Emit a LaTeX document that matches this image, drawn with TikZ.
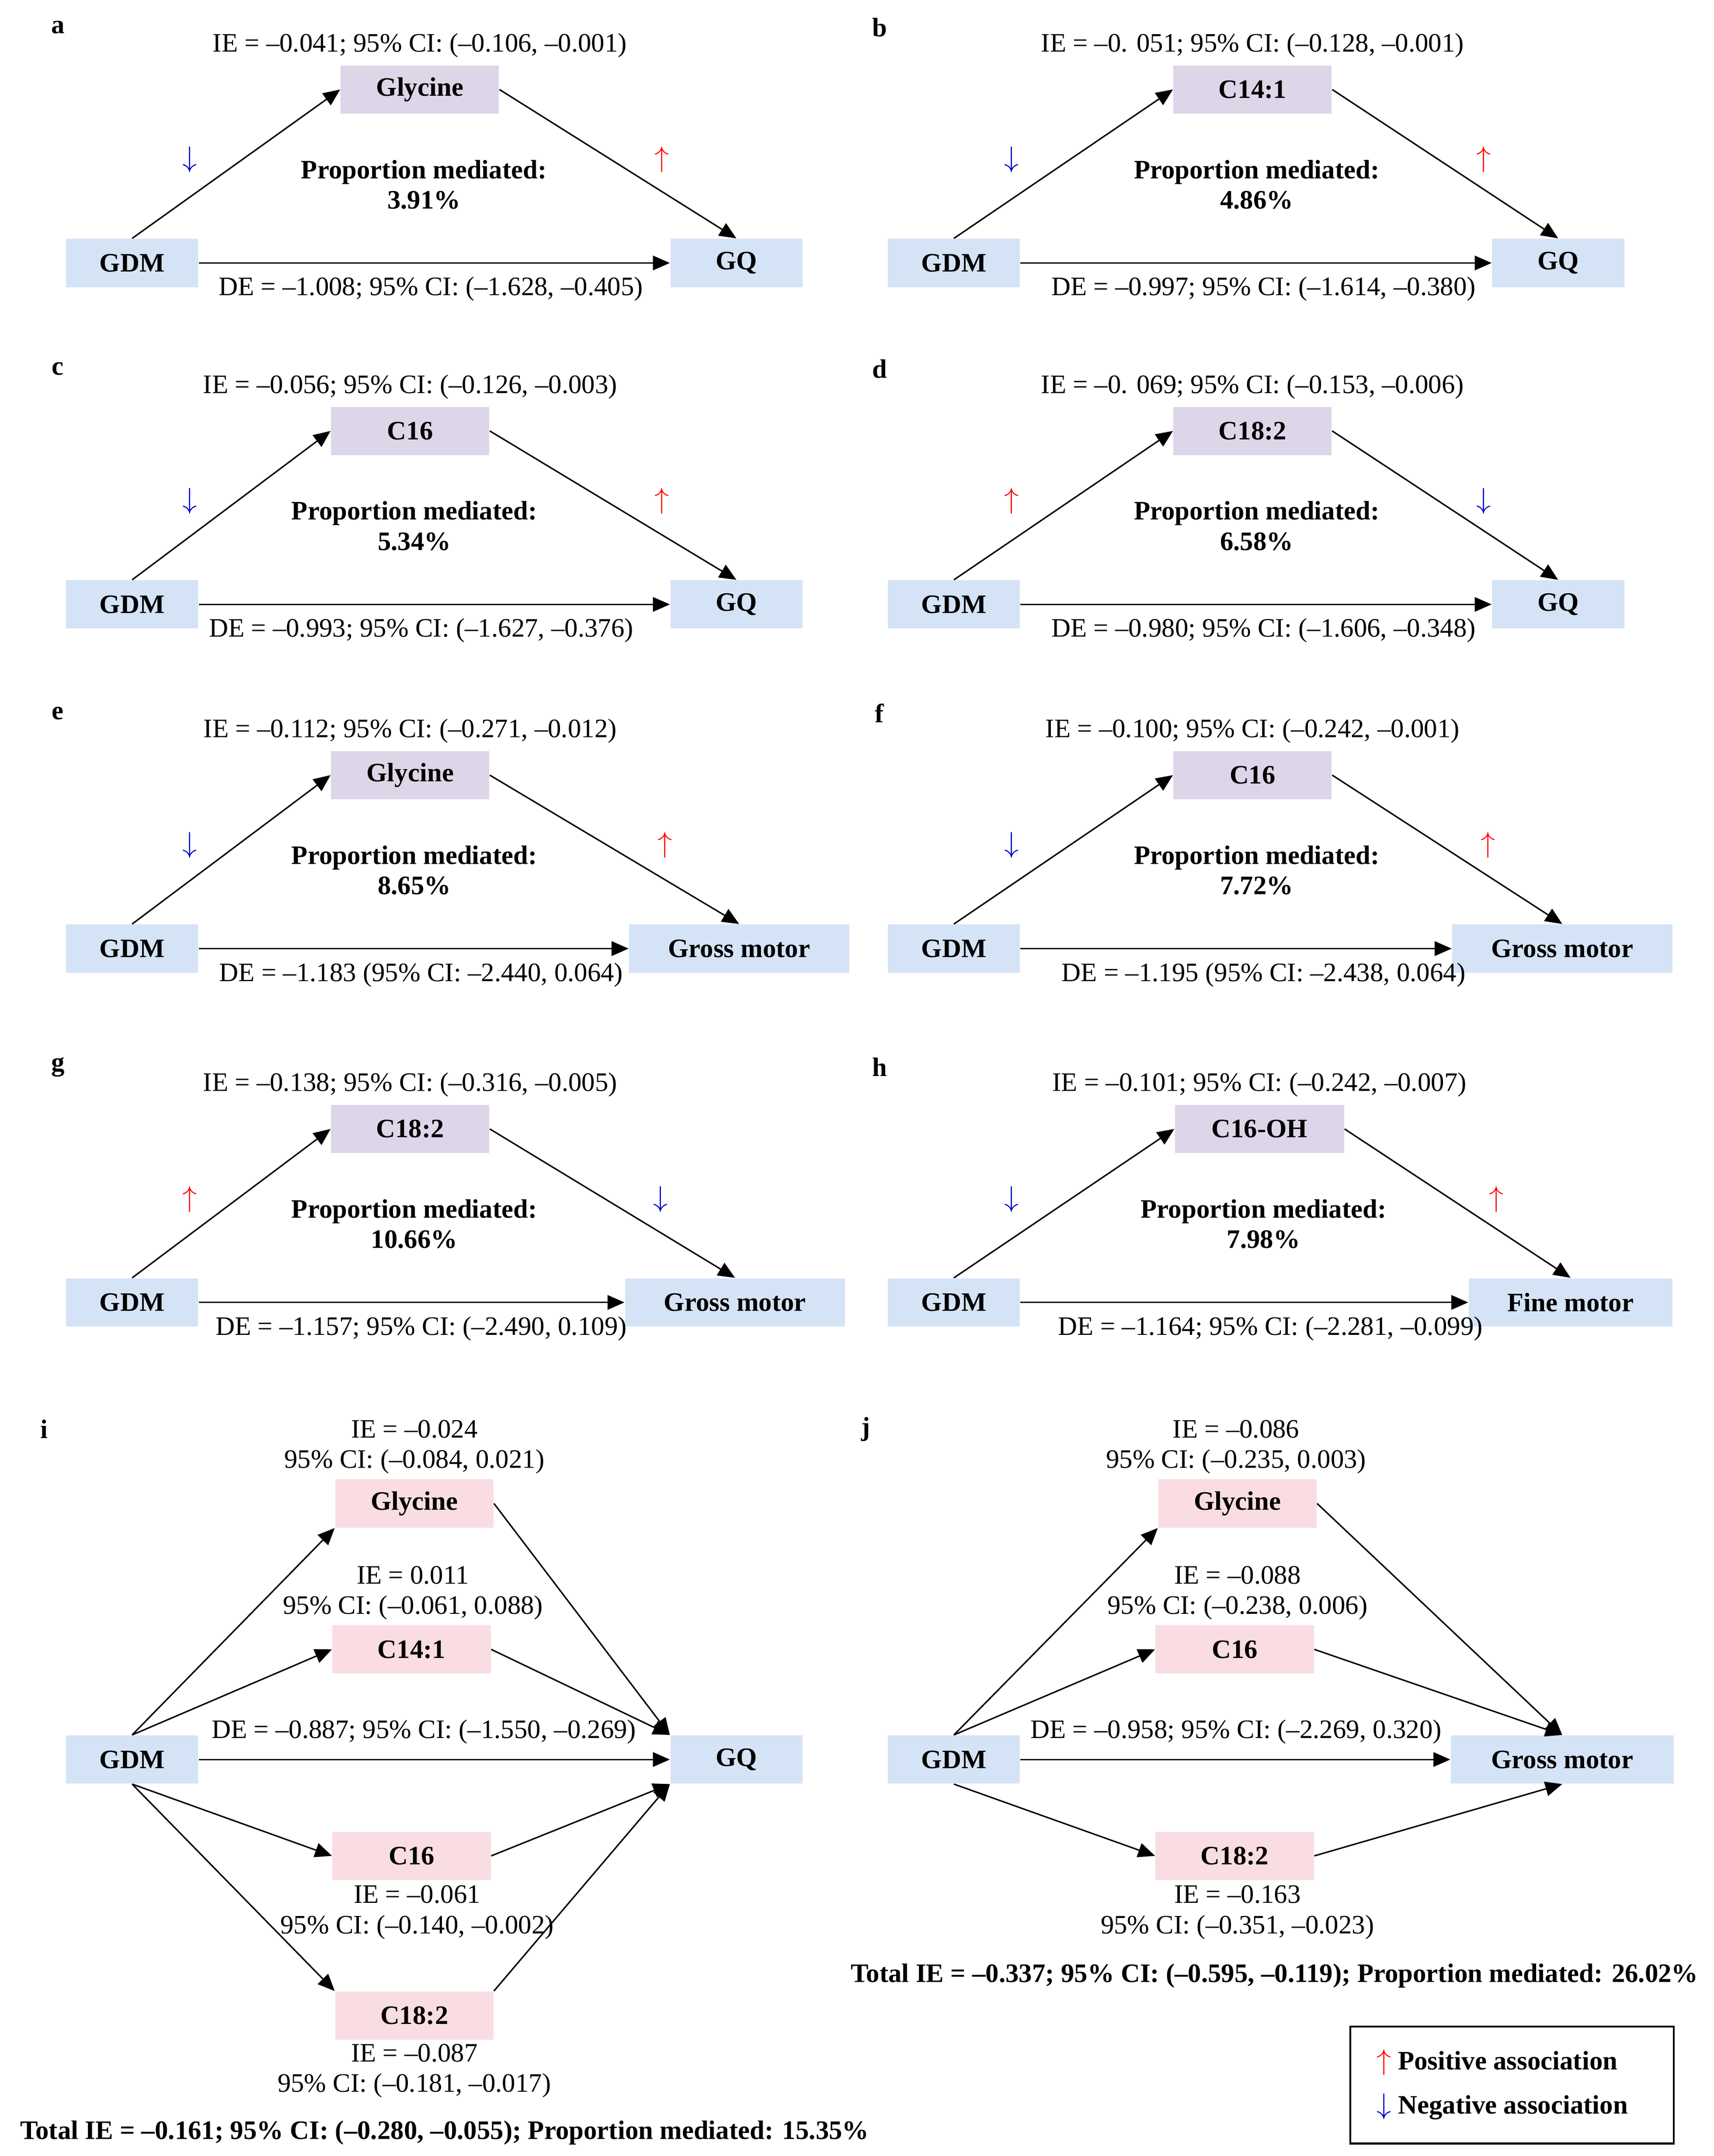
\documentclass[tikz,border=0pt]{standalone}
\usepackage{fontspec}
\setmainfont{Liberation Serif}
\usetikzlibrary{arrows.meta}
\definecolor{bluebox}{HTML}{D5E3F6}
\definecolor{purbox}{HTML}{DDD6E8}
\definecolor{pinkbox}{HTML}{F9DDE2}
\newcommand\arrowup{\textcolor{red}{\large$\uparrow$}}
\newcommand\arrowdn{\textcolor[HTML]{0000CC}{\large$\downarrow$}}
\tikzset{
  box/.style={minimum height=0.7cm, inner sep=0pt, font=\bfseries\fontsize{11}{13}\selectfont},
  gdm/.style={box, fill=bluebox, minimum width=1.92cm},
  med/.style={box, fill=purbox, minimum width=2.3cm},
  pmed/.style={box, fill=pinkbox, minimum width=2.3cm},
  txt/.style={inner sep=0pt, font=\fontsize{11}{12.5}\selectfont},
  btxt/.style={txt, font=\bfseries\fontsize{11}{12.5}\selectfont},
  lab/.style={inner sep=0pt, font=\bfseries\fontsize{11}{13}\selectfont},
  arr/.style={-{Triangle[length=7pt,width=6pt]}, line width=0.6pt}
}
% #1 origin, #2 label, #3 mediator, #4 outcome, #5 IE, #6 DE, #7 prop, #8 left arrow, #9 right arrow
\newcommand\panel[9]{%
\begin{scope}[shift={#1}]
  \node[lab] (L#2) at (-54,-171) {#2};
  \node[txt] (IE#2) at (\medx,-158) {#5};
  \node[med, minimum width=\medw] (M#2) at (\medx,-126) {#3};
  \node[gdm] (G#2) at (0,0) {GDM};
  \node[gdm, minimum width=\outw] (O#2) at (\outx,0) {#4};
  \node[btxt, align=center] (P#2) at (\medx+3,-57) {Proportion mediated:\\#7};
  \node[txt] (A#2) at (42,-75) {#8};
  \node[txt] (B#2) at (\outx-54,-75) {#9};
  \node[txt] (D#2) at (\medx+8,19) {#6};
  \draw[arr] (G#2.north) -- (M#2.west);
  \draw[arr] (M#2.east) -- (O#2.north);
  \draw[arr] (G#2.east) -- (O#2.west);
\end{scope}}
\begin{document}
\begin{tikzpicture}[x=0.02cm,y=-0.02cm]
\useasboundingbox (0,0) rectangle (1245,1566);
\def\medw{2.3cm}\def\outw{1.92cm}
\def\medx{209}\def\outx{439}
\panel{(96,191)}{a}{Glycine}{GQ}{IE = –0.041; 95\% CI: (–0.106, –0.001)}{DE = –1.008; 95\% CI: (–1.628, –0.405)}{3.91\%}{\arrowdn}{\arrowup}
\def\medx{217}
\panel{(693,191)}{b}{C14:1}{GQ}{IE = –0. 051; 95\% CI: (–0.128, –0.001)}{DE = –0.997; 95\% CI: (–1.614, –0.380)}{4.86\%}{\arrowdn}{\arrowup}
\def\medx{202}
\panel{(96,439)}{c}{C16}{GQ}{IE = –0.056; 95\% CI: (–0.126, –0.003)}{DE = –0.993; 95\% CI: (–1.627, –0.376)}{5.34\%}{\arrowdn}{\arrowup}
\def\medx{217}
\panel{(693,439)}{d}{C18:2}{GQ}{IE = –0. 069; 95\% CI: (–0.153, –0.006)}{DE = –0.980; 95\% CI: (–1.606, –0.348)}{6.58\%}{\arrowup}{\arrowdn}
\def\outw{3.2cm}
\def\medx{202}\def\outx{441}
\panel{(96,689)}{e}{Glycine}{Gross motor}{IE = –0.112; 95\% CI: (–0.271, –0.012)}{DE = –1.183 (95\% CI: –2.440, 0.064)}{8.65\%}{\arrowdn}{\arrowup}
\def\medx{217}\def\outx{442}
\panel{(693,689)}{f}{C16}{Gross motor}{IE = –0.100; 95\% CI: (–0.242, –0.001)}{DE = –1.195 (95\% CI: –2.438, 0.064)}{7.72\%}{\arrowdn}{\arrowup}
\def\medx{202}\def\outx{438}
\panel{(96,946)}{g}{C18:2}{Gross motor}{IE = –0.138; 95\% CI: (–0.316, –0.005)}{DE = –1.157; 95\% CI: (–2.490, 0.109)}{10.66\%}{\arrowup}{\arrowdn}
\def\medw{2.46cm}\def\outw{2.96cm}
\def\medx{222}\def\outx{448}
\panel{(693,946)}{h}{C16-OH}{Fine motor}{IE = –0.101; 95\% CI: (–0.242, –0.007)}{DE = –1.164; 95\% CI: (–2.281, –0.099)}{7.98\%}{\arrowdn}{\arrowup}
% panel i
\node[lab] (Li) at (32,1038) {i};
\node[gdm] (Gi) at (96,1278) {GDM};
\node[gdm] (Oi) at (535,1278) {GQ};
\node[pmed] (i1) at (301,1092) {Glycine};
\node[pmed] (i2) at (299,1198) {C14:1};
\node[pmed] (i3) at (299,1348) {C16};
\node[pmed] (i4) at (301,1464) {C18:2};
\node[txt,align=center] (ti1) at (301,1051) {IE = –0.024\\95\% CI: (–0.084, 0.021)};
\node[txt,align=center] (ti2) at (300,1157) {IE = 0.011\\95\% CI: (–0.061, 0.088)};
\node[txt] (ti0) at (308,1258) {DE = –0.887; 95\% CI: (–1.550, –0.269)};
\node[txt,align=center] (ti3) at (303,1389) {IE = –0.061\\95\% CI: (–0.140, –0.002)};
\node[txt,align=center] (ti4) at (301,1504) {IE = –0.087\\95\% CI: (–0.181, –0.017)};
\node[btxt] (toti) at (323,1549) {Total IE = –0.161; 95\% CI: (–0.280, –0.055); Proportion mediated: 15.35\%};
\draw[arr] (Gi.north) -- (i1.south west);
\draw[arr] (Gi.north) -- (i2.west);
\draw[arr] (Gi.south) -- (i3.west);
\draw[arr] (Gi.south) -- (i4.north west);
\draw[arr] (Gi.east) -- (Oi.west);
\draw[arr] (i1.east) -- (Oi.north west);
\draw[arr] (i2.east) -- (Oi.north west);
\draw[arr] (i3.east) -- (Oi.south west);
\draw[arr] (i4.north east) -- (Oi.south west);
% panel j
\node[lab] (Lj) at (629,1038) {j};
\node[gdm] (Gj) at (693,1278) {GDM};
\node[gdm, minimum width=3.24cm] (Oj) at (1135,1278) {Gross motor};
\node[pmed] (j1) at (899,1092) {Glycine};
\node[pmed] (j2) at (897,1198) {C16};
\node[pmed] (j3) at (897,1348) {C18:2};
\node[txt,align=center] (tj1) at (898,1051) {IE = –0.086\\95\% CI: (–0.235, 0.003)};
\node[txt,align=center] (tj2) at (899,1157) {IE = –0.088\\95\% CI: (–0.238, 0.006)};
\node[txt] (tj0) at (898,1258) {DE = –0.958; 95\% CI: (–2.269, 0.320)};
\node[txt,align=center] (tj3) at (899,1389) {IE = –0.163\\95\% CI: (–0.351, –0.023)};
\node[btxt] (totj) at (926,1435) {Total IE = –0.337; 95\% CI: (–0.595, –0.119); Proportion mediated: 26.02\%};
\draw[arr] (Gj.north) -- (j1.south west);
\draw[arr] (Gj.north) -- (j2.west);
\draw[arr] (Gj.south) -- (j3.west);
\draw[arr] (Gj.east) -- (Oj.west);
\draw[arr] (j1.east) -- (Oj.north);
\draw[arr] (j2.east) -- (Oj.north);
\draw[arr] (j3.east) -- (Oj.south);
% legend
\node[draw, line width=0.8pt, minimum width=4.7cm, minimum height=1.7cm, inner sep=0pt] (leg) at (1098.5,1514.5) {};
\node[txt, anchor=west] (lg1) at (1000,1498) {\arrowup\ \textbf{Positive association}};
\node[txt, anchor=west] (lg2) at (1000,1530) {\arrowdn\ \textbf{Negative association}};
\end{tikzpicture}
\end{document}
